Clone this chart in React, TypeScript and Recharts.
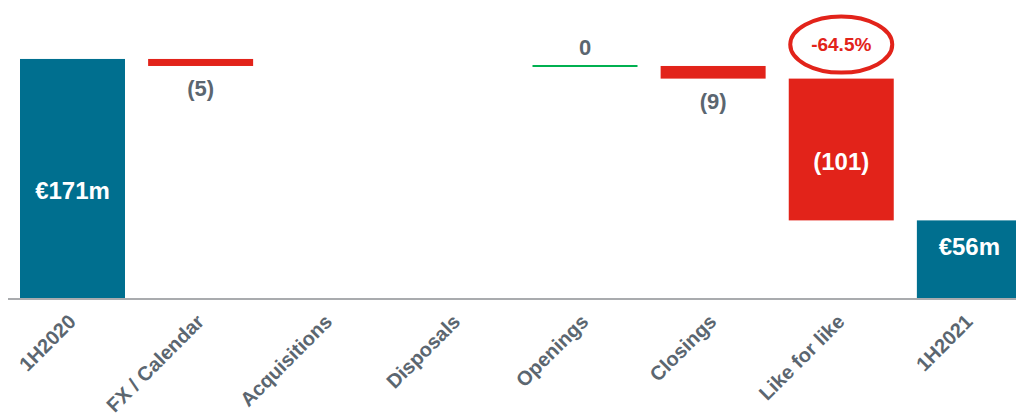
import React from "react";
import { BarChart, Bar, XAxis, YAxis, LabelList } from "recharts";

// Waterfall: 1H2020 -> 1H2021 (EUR m)
const categories = [
  "1H2020",
  "FX / Calendar",
  "Acquisitions",
  "Disposals",
  "Openings",
  "Closings",
  "Like for like",
  "1H2021",
];
const values: (number | null)[] = [171, -5, null, null, 0, -9, -101, 56];
const isTotal = [true, false, false, false, false, false, false, true];
const valueLabels = ["€171m", "(5)", "", "", "0", "(9)", "(101)", "€56m"];
const changeNotes = ["", "", "", "", "", "", "-64.5%", ""];

const TEAL = "#006f8f";
const RED = "#e2231a";
const GREEN = "#00b050";
const GREY = "#5b6670";
const FONT = "'Liberation Sans', Arial, sans-serif";

let running = 0;
const data = categories.map((name, i) => {
  const v = values[i];
  let range: [number, number] | null = null;
  if (v !== null) {
    if (isTotal[i]) {
      range = [0, v];
      running = v;
    } else {
      const next = running + v;
      range = [Math.min(running, next), Math.max(running, next)];
      running = next;
    }
  }
  return { name, idx: i, range, value: v, total: isTotal[i], label: valueLabels[i], note: changeNotes[i] };
});

function barColor(d: any) {
  if (d.total) return TEAL;
  if (d.value < 0) return RED;
  return GREEN;
}

function WaterfallShape(props: any) {
  const { x, y, width, height, payload } = props;
  if (!payload || payload.range === null) return null;
  const fill = barColor(payload);
  if (!height || Math.abs(height) < 1) {
    return <line x1={x} x2={x + width} y1={y} y2={y} stroke={fill} strokeWidth={2} />;
  }
  return <rect x={x} y={y} width={width} height={height} fill={fill} />;
}

// label offsets (px) relative to the bar, tuned to the slide
const insideDy: Record<number, number> = { 0: 12, 6: 12, 7: -13 };

function ValueLabel(props: any) {
  const { x, y, width, height, value } = props;
  const d = data.find((r) => r.name === value);
  if (!d || !d.label) return null;
  const i = d.idx;
  const cx = x + width / 2;
  const out: React.ReactNode[] = [];
  if (d.total || (d.value !== null && d.value < -50)) {
    out.push(
      <text key="v" x={cx} y={y + height / 2 + (insideDy[i] ?? 0)} fill="#fff" fontSize={24}
        fontWeight="bold" fontFamily={FONT} textAnchor="middle" dominantBaseline="central">
        {d.label}
      </text>
    );
  } else if (d.value === 0) {
    out.push(
      <text key="v" x={cx} y={y - 18} fill={GREY} fontSize={22} fontWeight="bold"
        fontFamily={FONT} textAnchor="middle" dominantBaseline="central">
        {d.label}
      </text>
    );
  } else {
    out.push(
      <text key="v" x={cx} y={y + height + 23} fill={GREY} fontSize={22} fontWeight="bold"
        fontFamily={FONT} textAnchor="middle" dominantBaseline="central">
        {d.label}
      </text>
    );
  }
  if (d.note) {
    out.push(
      <g key="n">
        <ellipse cx={cx} cy={y - 34} rx={51} ry={28} fill="none" stroke={RED} strokeWidth={4} />
        <text x={cx} y={y - 34} fill={RED} fontSize={19} fontWeight="bold" fontFamily={FONT}
          textAnchor="middle" dominantBaseline="central">
          {d.note}
        </text>
      </g>
    );
  }
  return <g>{out}</g>;
}

function CategoryTick(props: any) {
  const { x, y, payload } = props;
  return (
    <text transform={`translate(${x + 5},${y + 16}) rotate(-45)`} textAnchor="end"
      fill={GREY} fontSize={20} fontWeight="bold" fontFamily={FONT}>
      {payload.value}
    </text>
  );
}

export default function App() {
  return (
    <div style={{ position: "fixed", left: 0, top: 0, width: 1016, height: 415, overflow: "hidden", background: "#fff" }}>
      <BarChart width={1040} height={415} data={data} margin={{ top: 0, right: 7, left: 8, bottom: 6 }}>
        <XAxis dataKey="name" interval={0} tickLine={false} height={110}
          axisLine={{ stroke: "#a9abae", strokeWidth: 2 }} tick={<CategoryTick />} />
        <YAxis hide domain={[0, 213]} allowDataOverflow />
        <Bar dataKey="range" barSize={105} shape={<WaterfallShape />} isAnimationActive={false}>
          <LabelList dataKey="name" content={<ValueLabel />} />
        </Bar>
      </BarChart>
    </div>
  );
}
